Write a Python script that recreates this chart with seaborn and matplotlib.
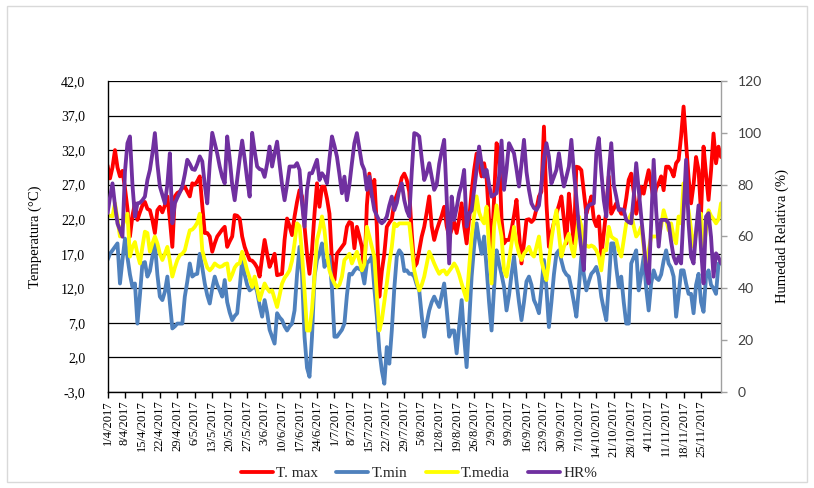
import numpy as np
import pandas as pd
import matplotlib
matplotlib.use("Agg")
import matplotlib.pyplot as plt
import matplotlib.ticker as mticker
import matplotlib.patches as mpatches
import seaborn as sns

start_date = "2017-04-01"

tmax = [29.8, 27.9, 29.5, 32.0, 29.5, 28.2, 29.0, 26.5, 23.5, 19.5,
        22.5, 24.3, 21.9, 23.0, 24.0, 24.5, 23.5, 23.3, 21.9, 20.0,
        23.3, 23.8, 23.0, 24.0, 25.3, 22.0, 18.0, 25.3, 25.8, 26.0,
        26.5, 26.7, 26.0, 25.3, 27.2, 27.0, 27.5, 28.2, 24.0, 20.0,
        20.0, 19.5, 17.3, 18.5, 19.5, 20.0, 20.5, 20.9, 18.0, 18.8,
        19.5, 22.6, 22.5, 22.1, 19.5, 18.0, 17.0, 16.1, 16.0, 15.6,
        15.0, 13.7, 16.5, 19.0, 17.0, 15.1, 16.0, 17.0, 13.9, 14.0,
        14.1, 19.0, 22.1, 21.0, 19.7, 22.4, 24.5, 26.2, 25.3, 21.0,
        17.0, 14.1, 17.5, 22.8, 27.2, 23.8, 26.7, 26.7, 25.0, 22.8,
        16.0, 13.2, 17.0, 17.5, 18.0, 18.5, 20.9, 21.6, 21.4, 17.8,
        20.9, 19.5, 18.0, 14.1, 24.0, 28.6, 25.3, 27.7, 20.9, 10.8,
        14.5, 17.0, 20.9, 21.5, 22.0, 24.5, 25.5, 26.5, 28.0, 28.6,
        27.7, 26.0, 20.0, 15.1, 15.6, 17.5, 19.5, 20.9, 23.0, 25.3,
        21.0, 19.0, 20.4, 21.5, 22.5, 23.8, 21.0, 19.5, 20.5, 21.6,
        20.0, 22.0, 24.3, 21.0, 18.5, 22.0, 26.0, 29.1, 31.5, 30.0,
        28.2, 30.1, 28.0, 22.0, 17.0, 25.0, 33.0, 32.0, 22.0, 18.5,
        19.0, 19.0, 20.5, 22.5, 24.8, 20.0, 15.6, 18.5, 21.9, 22.0,
        21.6, 22.0, 23.5, 25.3, 26.0, 35.4, 24.3, 18.0, 20.0, 21.5,
        22.8, 24.0, 25.3, 22.0, 18.5, 25.7, 22.0, 18.5, 29.6, 29.5,
        29.1, 26.0, 22.8, 24.0, 25.3, 22.0, 21.0, 22.4, 16.6, 20.0,
        23.3, 28.2, 22.8, 23.5, 24.3, 23.5, 22.8, 22.8, 25.0, 27.7,
        28.6, 26.0, 22.8, 24.5, 26.7, 25.7, 27.5, 29.1, 27.0, 24.8,
        26.5, 27.2, 28.2, 26.2, 29.6, 29.6, 29.1, 28.2, 30.1, 30.6,
        34.0, 38.3, 33.0, 28.0, 24.3, 27.0, 31.0, 29.1, 22.8, 32.5,
        28.5, 24.8, 29.0, 34.4, 30.1, 32.5, 31.0]

tmin = [16.1, 17.0, 17.5, 18.0, 18.5, 12.7, 16.1, 19.2, 16.5, 14.0,
        12.2, 12.7, 6.9, 11.0, 15.6, 15.8, 13.7, 14.5, 16.6, 18.5,
        14.0, 10.8, 10.3, 11.5, 13.7, 10.0, 6.2, 6.5, 6.9, 6.9,
        6.9, 10.8, 13.0, 15.6, 13.7, 14.0, 14.1, 17.0, 15.0, 12.7,
        11.0, 9.8, 12.0, 13.7, 12.5, 11.7, 10.8, 13.2, 10.0, 8.5,
        7.4, 8.0, 8.4, 12.0, 16.1, 14.0, 12.5, 11.7, 12.0, 12.7,
        11.5, 9.5, 7.9, 10.3, 8.5, 6.0, 5.0, 4.0, 8.4, 7.8,
        7.4, 6.5, 5.9, 6.5, 6.9, 8.8, 14.0, 18.0, 14.0, 5.0,
        0.5, -0.8, 5.0, 13.7, 16.1, 17.0, 18.5, 15.1, 16.0, 16.6,
        12.0, 5.0, 5.0, 5.5, 6.0, 6.9, 11.0, 14.1, 14.0, 14.6,
        15.0, 14.8, 14.6, 12.7, 15.6, 16.0, 16.6, 12.0, 7.9, 3.0,
        0.1, -1.8, 3.5, 1.1, 5.9, 12.0, 16.6, 17.5, 17.0, 14.5,
        14.6, 14.1, 14.1, 13.7, 12.5, 11.7, 8.0, 5.0, 7.0, 8.8,
        10.0, 10.8, 10.0, 9.3, 11.0, 12.7, 9.0, 5.0, 5.9, 5.9,
        2.6, 6.5, 10.3, 5.0, 0.6, 7.0, 13.7, 18.0, 21.4, 19.0,
        17.0, 19.5, 15.0, 10.0, 5.9, 12.0, 17.5, 15.6, 14.0, 12.2,
        8.8, 11.0, 14.0, 16.6, 13.0, 10.0, 7.4, 10.0, 13.0, 13.7,
        12.5, 10.3, 9.5, 8.4, 12.0, 16.1, 12.0, 6.4, 10.0, 14.0,
        17.0, 17.5, 16.0, 14.6, 14.0, 13.7, 12.0, 10.0, 7.9, 12.0,
        16.6, 14.0, 11.7, 13.0, 14.1, 14.5, 15.1, 13.7, 10.8, 9.0,
        7.4, 12.7, 18.5, 18.5, 15.0, 12.2, 13.7, 10.0, 6.9, 6.9,
        15.6, 16.5, 17.5, 11.7, 14.0, 16.6, 12.0, 8.8, 12.7, 14.6,
        13.5, 13.2, 14.0, 16.0, 17.5, 15.6, 15.0, 13.7, 7.9, 11.0,
        14.6, 14.6, 12.7, 11.2, 11.2, 8.4, 12.5, 14.1, 10.0, 8.6,
        13.7, 14.6, 12.5, 12.0, 11.2, 15.6, 15.6]

tmed = [22.6, 22.5, 22.4, 24.3, 22.0, 19.5, 21.0, 22.0, 22.8, 16.6,
        18.0, 18.7, 17.0, 15.6, 18.0, 20.2, 20.0, 17.3, 18.5, 19.5,
        18.5, 17.0, 16.1, 17.0, 18.0, 16.0, 13.7, 15.0, 16.1, 16.8,
        17.0, 17.5, 19.0, 20.4, 20.5, 20.9, 21.5, 22.8, 17.5, 16.1,
        15.0, 14.6, 15.0, 15.6, 15.3, 15.1, 15.2, 15.5, 15.6, 13.2,
        14.0, 15.0, 15.5, 15.6, 17.3, 16.0, 14.6, 13.5, 12.2, 13.7,
        12.0, 10.3, 11.5, 12.7, 12.0, 11.5, 11.7, 10.5, 9.3, 11.0,
        12.7, 13.5, 14.0, 14.6, 16.0, 18.5, 21.4, 21.0, 17.0, 11.7,
        5.9, 5.9, 9.0, 13.7, 19.0, 20.4, 22.4, 20.4, 17.0, 14.6,
        13.5, 12.7, 12.2, 12.5, 13.7, 16.1, 16.5, 17.0, 15.6, 16.5,
        17.3, 16.0, 14.6, 15.5, 20.9, 19.5, 18.0, 16.6, 11.0, 5.9,
        7.4, 10.0, 12.7, 15.6, 18.0, 21.4, 21.0, 21.4, 21.4, 21.4,
        21.4, 21.4, 18.0, 14.6, 13.0, 11.7, 12.5, 13.7, 15.5, 17.3,
        16.5, 15.6, 14.8, 14.1, 14.5, 14.6, 14.0, 14.5, 15.0, 15.6,
        15.0, 14.0, 12.7, 11.5, 10.3, 15.0, 19.5, 22.5, 25.3, 23.0,
        22.0, 21.4, 23.8, 18.0, 12.7, 20.9, 24.0, 21.5, 19.5, 14.6,
        13.7, 16.0, 18.5, 20.9, 18.5, 17.0, 16.1, 17.0, 17.5, 18.0,
        17.0, 16.6, 18.0, 19.5, 16.0, 14.5, 13.2, 16.0, 19.0, 21.5,
        23.3, 20.0, 16.6, 18.0, 19.0, 19.9, 18.0, 16.6, 19.5, 22.4,
        21.0, 18.0, 18.2, 18.0, 18.2, 18.0, 17.5, 16.6, 14.6, 17.5,
        17.5, 20.9, 19.5, 19.2, 19.0, 17.5, 16.6, 19.0, 21.4, 22.0,
        22.8, 21.0, 19.5, 20.0, 20.9, 18.0, 15.1, 17.5, 19.5, 19.5,
        19.5, 19.5, 21.0, 23.3, 22.0, 20.4, 21.4, 19.5, 18.5, 22.4,
        21.4, 27.2, 24.3, 23.3, 20.5, 18.0, 20.0, 22.8, 22.8, 17.5,
        20.5, 23.3, 22.5, 22.0, 21.4, 22.0, 24.3]

hr = [69, 75, 80.5, 72, 65, 62.5, 59.9, 85, 96, 98.6,
      80, 67.7, 72.8, 73, 74, 75.4, 81.8, 85.7, 92, 99.9,
      88, 79.3, 76, 72.8, 80, 92.1, 65.1, 72.8, 75, 77,
      79.3, 84, 89.6, 88, 86, 85.7, 88, 90.9, 89, 80,
      72.8, 88, 100, 96, 92, 87, 83, 80.5, 98.6, 90,
      80, 74, 82, 90, 97, 90, 82, 75.4, 100, 93,
      87, 86, 85.7, 83, 88, 94.7, 87, 92, 96.6, 88,
      80, 74, 80, 87, 87, 87, 88.3, 85.7, 72.8, 63.8,
      78, 84.4, 84.4, 87, 89.6, 81.8, 84.4, 83, 80.5, 90,
      98.6, 95, 90.8, 84, 76.7, 83.1, 74, 80, 88.3, 96,
      99.9, 94, 88, 85.7, 78, 83.1, 76, 70.2, 68, 66,
      65.1, 66, 67.7, 72, 75.4, 70.2, 73, 78, 80.5, 74,
      70, 67.7, 85, 99.9, 99.5, 98.6, 90, 81.8, 84.4, 88.3,
      83, 78, 80, 88, 93, 97.3, 75, 49.6, 75.4, 66.4,
      71, 76.7, 80, 85.7, 63.8, 68.9, 70, 78, 85.7, 94.7,
      88, 83.1, 85.7, 80, 75.4, 76, 76.7, 83.1, 97, 78,
      86, 96, 94, 92.1, 86, 79.3, 88, 97.3, 85, 78,
      72.8, 71, 70.2, 72, 80, 90, 96, 90.8, 80.5, 83,
      85.7, 92.1, 85, 79.3, 83, 87, 97.3, 85, 75, 63.8,
      55, 47, 70.2, 72, 72.5, 72.8, 92, 98, 85, 74,
      67.7, 85, 96, 80, 75.4, 70.2, 70.5, 70.2, 66.4, 65.5,
      65.1, 75.4, 88.3, 78, 67.7, 58, 47, 41.9, 65, 89.6,
      70, 56.1, 66.4, 66.4, 66.4, 65.1, 58, 52.2, 49.6, 52.2,
      49.6, 70, 89.6, 65.1, 52.2, 49.6, 62, 72, 55, 41.9,
      67.7, 69, 59.9, 44.5, 53.5, 52, 49.6]

series_labels = ["T. max", "T.min", "T.media", "HR%"]
series_colors = ["#FF0000", "#4F81BD", "#FFFF00", "#7030A0"]
temp_ticks = [-3, 2, 7, 12, 17, 22, 27, 32, 37, 42]
hr_ticks = [0, 20, 40, 60, 80, 100, 120]

sns.set_theme(style="white")
plt.rcParams['font.family'] = ['Liberation Serif', 'DejaVu Serif']

W, H = 814, 488
fig = plt.figure(figsize=(W / 100, H / 100), dpi=100)
fig.patches.append(mpatches.Rectangle((7 / W, 6 / H), (807 - 7) / W, (482 - 6) / H,
                                      transform=fig.transFigure, fill=False,
                                      edgecolor="#D9D9D9", lw=1.0, zorder=0))

L, R, T, B = 107.5, 721, 81, 392
ax = fig.add_axes([L / W, 1 - B / H, (R - L) / W, (B - T) / H])

def dates_for(vals):
    return pd.date_range(start_date, periods=len(vals), freq="D")

lw = 2.75
for vals, lab, col in zip([tmax, tmin, tmed], series_labels[:3], series_colors[:3]):
    sns.lineplot(x=dates_for(vals), y=vals, ax=ax, color=col, lw=lw, label=lab)
ax2 = ax.twinx()
sns.lineplot(x=dates_for(hr), y=hr, ax=ax2, color=series_colors[3], lw=lw, label=series_labels[3])

n = max(len(tmax), len(tmin), len(tmed), len(hr))
all_dates = pd.date_range(start_date, periods=n, freq="D")
ax.set_xlim(all_dates[0], all_dates[-1])
ax.set_ylim(-3, 42)
ax.set_yticks(temp_ticks)
ax.yaxis.set_major_formatter(mticker.FuncFormatter(lambda v, p: f"{v:.1f}".replace(".", ",")))
ax.yaxis.grid(True, color="black", lw=0.9)
ax.xaxis.grid(False)
ax.set_axisbelow(True)

tick_dates = [d for d in all_dates[::7] if d <= pd.Timestamp("2017-11-25")]
ax.set_xticks(tick_dates)
ax.set_xticklabels([f"{d.day}/{d.month}/{d.year}" for d in tick_dates], rotation=90,
                   fontsize=9, color="black")
ax.tick_params(axis="x", direction="out", length=4, width=1, color="black", pad=2, bottom=True)
ax.tick_params(axis="y", length=0, pad=16, labelsize=10, colors="black")
ax.set_xlabel("")
ax.set_ylabel("Temperatura (°C)", fontsize=10.5, color="black", labelpad=14)

for s in ["top", "right"]:
    ax.spines[s].set_visible(False)
ax.spines["left"].set_color("black")
ax.spines["bottom"].set_color("black")
ax.spines["left"].set_linewidth(1)
ax.spines["bottom"].set_linewidth(1)

ax2.set_ylim(0, 120)
ax2.set_yticks(hr_ticks)
for s in ["top", "left", "bottom"]:
    ax2.spines[s].set_visible(False)
ax2.spines["right"].set_color("#A0A0A0")
ax2.spines["right"].set_linewidth(1)
ax2.tick_params(axis="y", direction="out", length=4, width=1, color="#A0A0A0", pad=8,
                right=True, labelsize=10, labelcolor="#404040")
for lab in ax2.get_yticklabels():
    lab.set_fontfamily(["Lato", "DejaVu Sans"])
ax2.set_ylabel("Humedad Relativa (%)", fontsize=10.5, color="black", labelpad=10)
ax2.grid(False)

h1, l1 = ax.get_legend_handles_labels()
h2, l2 = ax2.get_legend_handles_labels()
if ax.get_legend():
    ax.get_legend().remove()
if ax2.get_legend():
    ax2.get_legend().remove()
fig.legend(h1 + h2, l1 + l2, loc="center", bbox_to_anchor=(419 / W, 1 - 473 / H), ncol=4,
           frameon=False, fontsize=11, handlelength=2.1, handletextpad=0.2, columnspacing=1.2)

fig.savefig("out.png", dpi=100)
